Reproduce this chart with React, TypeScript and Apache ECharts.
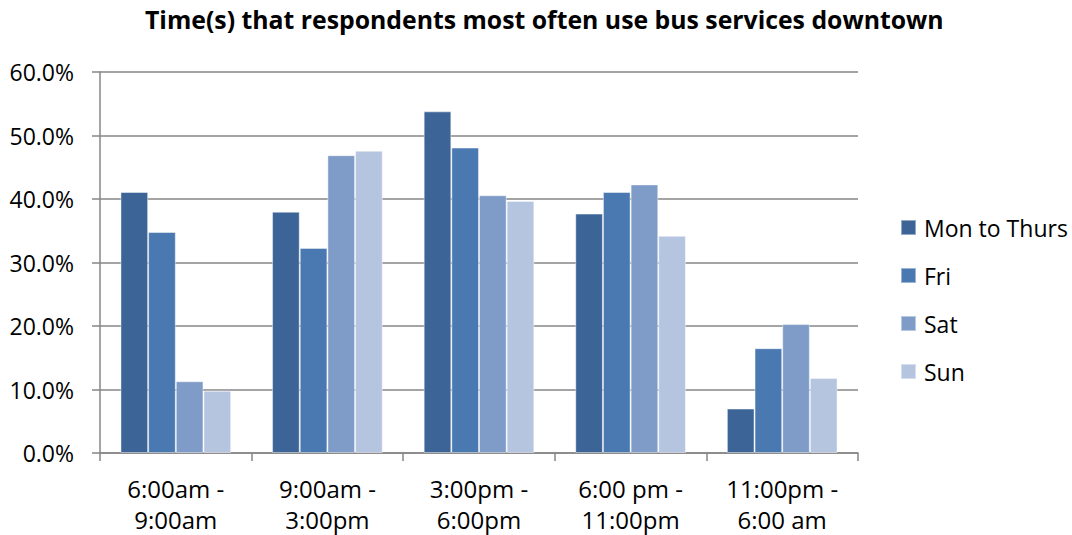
import React, { useEffect, useRef } from "react";
import * as echarts from "echarts";

const categories = ["6:00am -\n9:00am", "9:00am -\n3:00pm", "3:00pm -\n6:00pm", "6:00 pm -\n11:00pm", "11:00pm -\n6:00 am"];
const seriesNames = ["Mon to Thurs", "Fri", "Sat", "Sun"];
const monToThurs = [0.411, 0.380, 0.538, 0.377, 0.070];
const fri = [0.348, 0.323, 0.481, 0.411, 0.165];
const sat = [0.113, 0.469, 0.406, 0.423, 0.203];
const sun = [0.098, 0.476, 0.397, 0.342, 0.118];
const colors = ["#3C6496", "#4A78B0", "#7F9CC8", "#B5C4DF"];
const titleText = "Time(s) that respondents most often use bus services downtown";

const FONT = "Open Sans";

export default function App() {
  const ref = useRef<HTMLDivElement>(null);
  useEffect(() => {
    document.body.style.margin = "0";
    const chart = echarts.init(ref.current!, null, { renderer: "svg" });
    const values = [monToThurs, fri, sat, sun];
    chart.setOption({
      animation: false,
      backgroundColor: "#ffffff",
      textStyle: { fontFamily: FONT },
      title: {
        text: titleText,
        left: 145,
        top: 0,
        padding: [5, 0, 5, 0],
        textStyle: { fontFamily: FONT, fontSize: 24.8, fontWeight: "bold", color: "#000000", lineHeight: 28 },
      },
      legend: {
        orient: "vertical",
        left: 900,
        top: 216,
        padding: 0,
        itemGap: 25,
        itemWidth: 15,
        itemHeight: 15,
        icon: "rect",
        textStyle: { fontFamily: FONT, fontSize: 23, lineHeight: 23, color: "#000000", padding: [0, 0, 0, 3] },
        data: seriesNames,
      },
      grid: { left: 100, right: 214, top: 72, bottom: 77, containLabel: false },
      xAxis: {
        type: "category",
        data: categories,
        axisLine: { show: true, lineStyle: { color: "#868686", width: 1.5 } },
        axisTick: { show: true, length: 8, lineStyle: { color: "#868686", width: 1.5 } },
        axisLabel: { margin: 20, fontSize: 24, lineHeight: 31, color: "#000000", fontFamily: FONT, interval: 0 },
      },
      yAxis: {
        type: "value",
        min: 0,
        max: 0.6,
        interval: 0.1,
        axisLine: { show: true, lineStyle: { color: "#868686", width: 1.5 } },
        axisTick: { show: true, length: 8, lineStyle: { color: "#868686", width: 1.5 } },
        splitLine: { show: true, lineStyle: { color: "#868686", width: 1.5 } },
        axisLabel: {
          margin: 26,
          fontSize: 23,
          color: "#000000",
          fontFamily: FONT,
          formatter: (v: number) => (v * 100).toFixed(1) + "%",
        },
      },
      series: seriesNames.map((name, i) => ({
        name,
        type: "bar",
        data: values[i],
        barGap: "0%",
        barCategoryGap: "27%",
        itemStyle: { color: colors[i], borderColor: "rgba(255,255,255,0.45)", borderWidth: 1 },
      })),
    });
    return () => chart.dispose();
  }, []);
  return <div ref={ref} style={{ width: 1072, height: 535 }} />;
}
